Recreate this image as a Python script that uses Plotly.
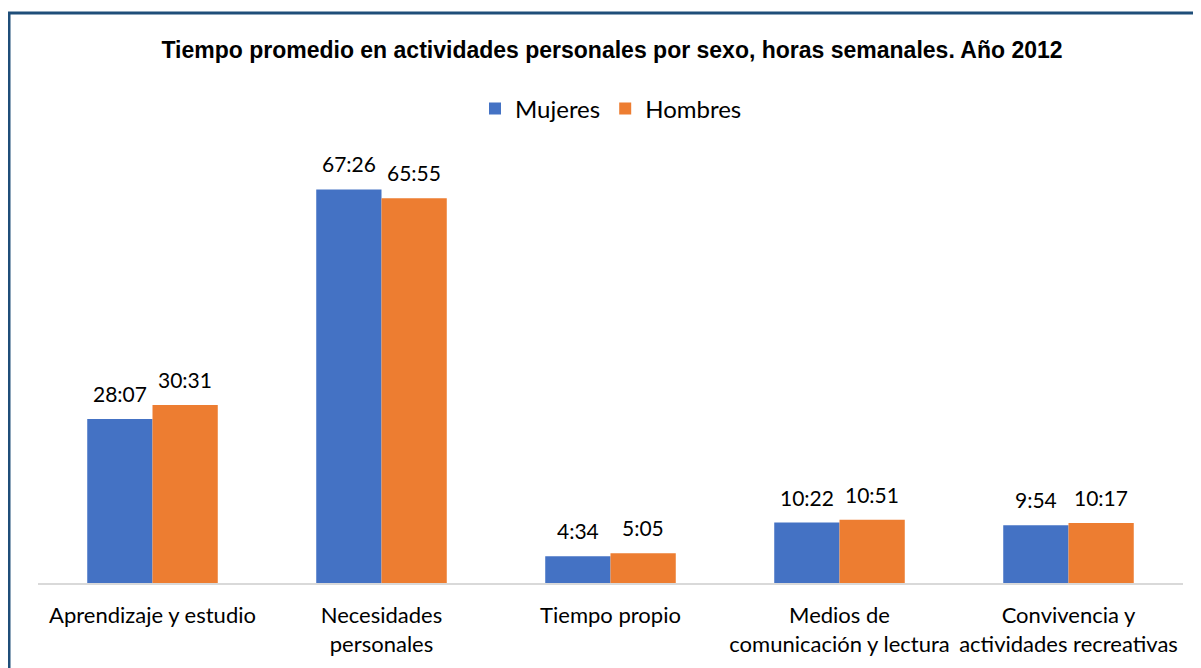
import plotly.graph_objects as go

categories = [
    "Aprendizaje y estudio",
    "Necesidades<br>personales",
    "Tiempo propio",
    "Medios de<br>comunicación y lectura",
    "Convivencia y<br>actividades recreativas",
]
mujeres_labels = ["28:07", "67:26", "4:34", "10:22", "9:54"]
hombres_labels = ["30:31", "65:55", "5:05", "10:51", "10:17"]


def to_hours(s):
    h, m = s.split(":")
    return int(h) + int(m) / 60.0


mujeres = [to_hours(s) for s in mujeres_labels]
hombres = [to_hours(s) for s in hombres_labels]

# page body has an 8px default margin, so the figure is laid out in page coords minus 8
OFF = 8
W, H = 1201 - OFF, 668 - OFF
L, R, T, B = 38 - OFF, 1201 - 1183, 150 - OFF, 668 - 583
BARGAP = 0.43

label_font = dict(family="Lato, Carlito, Calibri, sans-serif", size=22, color="#000000")
value_font = dict(family="Lato, Carlito, Calibri, sans-serif", size=21, color="#000000")
legend_font = dict(family="Lato, Carlito, Calibri, sans-serif", size=24, color="#000000")

fig = go.Figure()
fig.add_trace(go.Bar(
    name="Mujeres", x=categories, y=mujeres,
    marker=dict(color="#4472C4", line=dict(width=0)),
))
fig.add_trace(go.Bar(
    name="Hombres", x=categories, y=hombres,
    marker=dict(color="#ED7D31", line=dict(width=0)),
))

pw, ph = W - L - R, H - T - B

# value labels above each bar (offset by half a bar within the group)
bar_px = (pw / len(categories)) * (1 - BARGAP) / 2
for vals, labels, sign in ((mujeres, mujeres_labels, -1), (hombres, hombres_labels, 1)):
    for c, v, t in zip(categories, vals, labels):
        fig.add_annotation(
            x=c, y=v, xref="x", yref="y", text=t, showarrow=False,
            xanchor="center", yanchor="bottom", xshift=sign * bar_px / 2, yshift=11,
            font=value_font,
        )


def px_x(p):
    return (p - OFF - L) / pw


def px_y(p):
    return (H - B - (p - OFF)) / ph


# border frame (cropped at right/bottom like the reference)
fig.add_shape(type="rect", xref="paper", yref="paper",
              x0=px_x(9), x1=px_x(1215), y0=px_y(690), y1=px_y(13),
              line=dict(color="#1F4E79", width=3), fillcolor="rgba(0,0,0,0)")

fig.update_layout(
    width=W, height=H,
    margin=dict(l=L, r=R, t=T, b=B),
    paper_bgcolor="white", plot_bgcolor="white",
    barmode="group", bargap=BARGAP, bargroupgap=0,
    title=dict(
        text="<b>Tiempo promedio en actividades personales por sexo, horas semanales. Año 2012</b>",
        font=dict(family="Liberation Sans, Arial, sans-serif", size=23, color="#000000"),
        x=(612 - OFF) / W, xanchor="center", xref="container",
        y=1 - (50 - OFF) / H, yanchor="middle", yref="container",
    ),
    legend=dict(
        orientation="h", xref="container", yref="container",
        x=603 / W, xanchor="center", y=1 - (109 - OFF) / H, yanchor="middle",
        font=legend_font, itemwidth=30, traceorder="normal",
    ),
    showlegend=True,
)
fig.update_xaxes(
    showline=True, linecolor="#D9D9D9", linewidth=2,
    ticks="", showgrid=False, tickfont=label_font,
    ticklabelstandoff=12,
)
fig.update_yaxes(
    range=[0, 74.2], showgrid=False, showline=False, showticklabels=False,
    zeroline=False, ticks="",
)

fig.write_html("out.html")
